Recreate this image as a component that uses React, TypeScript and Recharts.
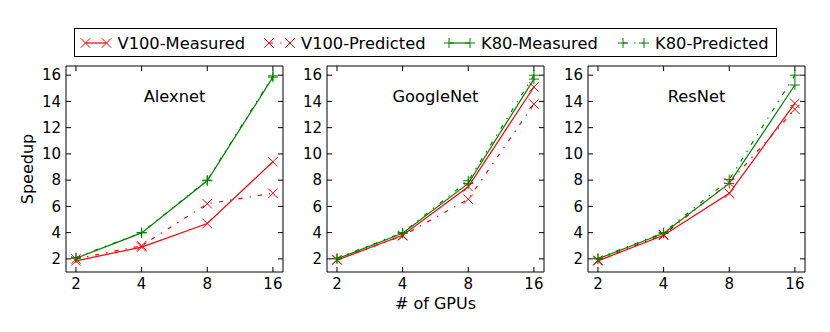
import React from 'react';
import { LineChart, Line, XAxis, YAxis, ReferenceArea } from 'recharts';

const gpuCounts = [2, 4, 8, 16];
const speedupTicks = [2, 4, 6, 8, 10, 12, 14, 16];

const alexnetV100Measured = [1.85, 2.9, 4.7, 9.4];
const alexnetV100Predicted = [2.0, 3.0, 6.2, 7.0];
const alexnetK80Measured = [2.05, 3.98, 7.95, 15.85];
const alexnetK80Predicted = [2.1, 4.0, 8.0, 15.95];

const googlenetV100Measured = [1.9, 3.8, 7.5, 15.1];
const googlenetV100Predicted = [1.95, 3.75, 6.55, 13.8];
const googlenetK80Measured = [2.0, 3.95, 7.75, 15.7];
const googlenetK80Predicted = [2.05, 4.0, 7.95, 16.0];

const resnetV100Measured = [1.85, 3.8, 7.0, 13.85];
const resnetV100Predicted = [1.9, 3.85, 7.8, 13.4];
const resnetK80Measured = [2.0, 3.95, 7.75, 15.25];
const resnetK80Predicted = [2.05, 4.0, 8.05, 16.0];

const RED = '#ff0000';
const GREEN = '#008000';
const DASHDOT = '4.2 7 1.4 7';
const FONT = '"DejaVu Sans", sans-serif';
const LW = 1.2;

// plot box inside each LineChart
const Y_W = 45;
const M_TOP = 10;
const PLOT_W = 217;
const PLOT_H = 206;
const CHART_W = Y_W + PLOT_W + 10;
const CHART_H = M_TOP + PLOT_H + 30;

const buildRows = (v100m: number[], v100p: number[], k80m: number[], k80p: number[]) =>
  gpuCounts.map((g, i) => ({ gpus: g, v100m: v100m[i], v100p: v100p[i], k80m: k80m[i], k80p: k80p[i] }));

const panels = [
  { title: 'Alexnet', left: 66, rows: buildRows(alexnetV100Measured, alexnetV100Predicted, alexnetK80Measured, alexnetK80Predicted) },
  { title: 'GoogleNet', left: 327, rows: buildRows(googlenetV100Measured, googlenetV100Predicted, googlenetK80Measured, googlenetK80Predicted) },
  { title: 'ResNet', left: 588, rows: buildRows(resnetV100Measured, resnetV100Predicted, resnetK80Measured, resnetK80Predicted) },
];

const Cross = ({ cx, cy, color }: { cx: number; cy: number; color: string }) => (
  <g stroke={color} strokeWidth={1} fill="none">
    <line x1={cx - 4.7} y1={cy - 4.7} x2={cx + 4.7} y2={cy + 4.7} />
    <line x1={cx - 4.7} y1={cy + 4.7} x2={cx + 4.7} y2={cy - 4.7} />
  </g>
);

const Plus = ({ cx, cy, color }: { cx: number; cy: number; color: string }) => (
  <g stroke={color} strokeWidth={1} fill="none">
    <line x1={cx - 5} y1={cy} x2={cx + 5} y2={cy} />
    <line x1={cx} y1={cy - 5} x2={cx} y2={cy + 5} />
  </g>
);

const crossDot = (color: string) => (p: any) =>
  p.cx == null ? <g key={p.index} /> : <g key={p.index}><Cross cx={p.cx} cy={p.cy} color={color} /></g>;
const plusDot = (color: string) => (p: any) =>
  p.cx == null ? <g key={p.index} /> : <g key={p.index}><Plus cx={p.cx} cy={p.cy} color={color} /></g>;

const YTick = (props: any) => {
  const { y, payload } = props;
  return (
    <g>
      <line x1={Y_W} y1={y} x2={Y_W + 5} y2={y} stroke="#000" />
      <line x1={Y_W + PLOT_W - 5} y1={y} x2={Y_W + PLOT_W} y2={y} stroke="#000" />
      <text x={Y_W - 5} y={y + 5.3} textAnchor="end" fontSize={15} fontFamily={FONT} fill="#000">
        {payload.value}
      </text>
    </g>
  );
};

const XTick = (props: any) => {
  const { x, payload } = props;
  const bottom = M_TOP + PLOT_H;
  return (
    <g>
      <line x1={x} y1={bottom} x2={x} y2={bottom - 5} stroke="#000" />
      <line x1={x} y1={M_TOP} x2={x} y2={M_TOP + 5} stroke="#000" />
      <text x={x} y={bottom + 16.5} textAnchor="middle" fontSize={15} fontFamily={FONT} fill="#000">
        {payload.value}
      </text>
    </g>
  );
};

const Panel = ({ rows }: { rows: any[] }) => (
  <LineChart width={CHART_W} height={CHART_H} data={rows} margin={{ top: M_TOP, right: 10, bottom: 0, left: 0 }}>
    <XAxis
      dataKey="gpus"
      type="number"
      scale="log"
      domain={[1.8, 17.8]}
      ticks={gpuCounts}
      axisLine={false}
      tickLine={false}
      height={30}
      tick={<XTick />}
      interval={0}
    />
    <YAxis
      type="number"
      domain={[1, 16.7]}
      ticks={speedupTicks}
      axisLine={false}
      tickLine={false}
      width={Y_W}
      tick={<YTick />}
      interval={0}
    />
    <ReferenceArea x1={1.8} x2={17.8} y1={1} y2={16.7} fill="none" stroke="#000" strokeWidth={1} />
    <Line dataKey="v100m" stroke={RED} strokeWidth={LW} dot={crossDot(RED)} activeDot={false} isAnimationActive={false} />
    <Line dataKey="v100p" stroke={RED} strokeWidth={LW} strokeDasharray={DASHDOT} dot={crossDot(RED)} activeDot={false} isAnimationActive={false} />
    <Line dataKey="k80m" stroke={GREEN} strokeWidth={LW} dot={plusDot(GREEN)} activeDot={false} isAnimationActive={false} />
    <Line dataKey="k80p" stroke={GREEN} strokeWidth={LW} strokeDasharray={DASHDOT} dot={plusDot(GREEN)} activeDot={false} isAnimationActive={false} />
  </LineChart>
);

const legendItems = [
  { label: 'V100-Measured', color: RED, dash: undefined, mark: 'x', at: 85.5 },
  { label: 'V100-Predicted', color: RED, dash: DASHDOT, mark: 'x', at: 269 },
  { label: 'K80-Measured', color: GREEN, dash: undefined, mark: '+', at: 449 },
  { label: 'K80-Predicted', color: GREEN, dash: DASHDOT, mark: '+', at: 623 },
];

export default function App() {
  return (
    <div style={{ position: 'absolute', left: 0, top: 0, width: 830, height: 332, background: '#fff', fontFamily: FONT }}>
      {panels.map((p) => (
        <div key={p.title} style={{ position: 'absolute', left: p.left - Y_W, top: 66 - M_TOP }}>
          <Panel rows={p.rows} />
        </div>
      ))}
      <svg width={830} height={332} style={{ position: 'absolute', left: 0, top: 0, pointerEvents: 'none' }}>
        <rect x={74.5} y={28.5} width={702} height={28} fill="#fff" stroke="#000" strokeWidth={1} />
        {legendItems.map((it) => (
          <g key={it.label}>
            <line x1={it.at} y1={43} x2={it.at + 21} y2={43} stroke={it.color} strokeWidth={LW} strokeDasharray={it.dash} />
            {it.mark === 'x' ? (
              <>
                <Cross cx={it.at} cy={43} color={it.color} />
                <Cross cx={it.at + 21} cy={43} color={it.color} />
              </>
            ) : (
              <>
                <Plus cx={it.at} cy={43} color={it.color} />
                <Plus cx={it.at + 21} cy={43} color={it.color} />
              </>
            )}
            <text x={it.at + 32} y={48.5} fontSize={16.3} fontFamily={FONT} fill="#000">
              {it.label}
            </text>
          </g>
        ))}
        {panels.map((p) => (
          <text key={p.title} x={p.left + PLOT_W / 2} y={102} textAnchor="middle" fontSize={16.3} fontFamily={FONT} fill="#000">
            {p.title}
          </text>
        ))}
        <text transform="translate(33,169) rotate(-90)" textAnchor="middle" fontSize={16} fontFamily={FONT} fill="#000">
          Speedup
        </text>
        <text x={435.5} y={309} textAnchor="middle" fontSize={16} fontFamily={FONT} fill="#000">
          # of GPUs
        </text>
      </svg>
    </div>
  );
}
